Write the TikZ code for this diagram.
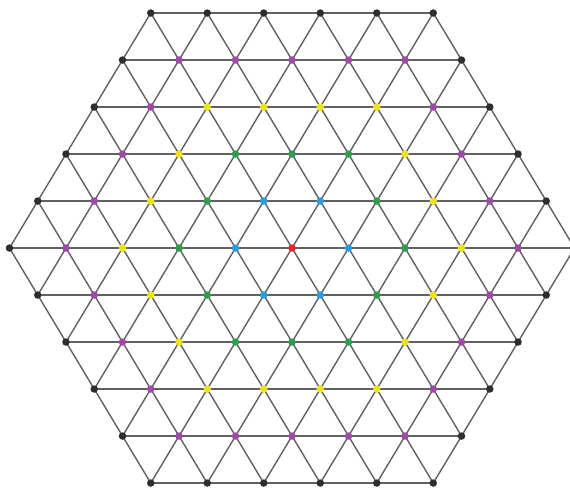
\documentclass[tikz,border=0pt]{standalone}
\usetikzlibrary{backgrounds}
\definecolor{ring0}{HTML}{E8262A}
\definecolor{ring1}{HTML}{2A9BE0}
\definecolor{ring2}{HTML}{2E9E4C}
\definecolor{ring3}{HTML}{EDE31C}
\definecolor{ring4}{HTML}{A04AA8}
\definecolor{ring5}{HTML}{2E2E2E}
\begin{document}
\begin{tikzpicture}[x=1.13cm,y=0.94cm]
  \tikzset{site/.style={circle,inner sep=0pt,minimum size=0.15cm},
    grid/.style={draw=black!62,line width=0.8pt}}
  \useasboundingbox (-5.168,-5.149) rectangle (4.920,5.277);
  \def\R{5}
  % sites of the hexagon, coloured by ring
  \foreach \q in {-5,...,5}{
    \foreach \r in {-5,...,5}{
      \pgfmathtruncatemacro\s{abs(\q+\r)}
      \ifnum\s>\R\relax\else
        \pgfmathtruncatemacro\d{max(abs(\q),abs(\r),\s)}
        \node[site,fill=ring\d] (q\q r\r) at ({\q+\r/2},{\r}) {};
      \fi
    }
  }
  % the three families of lattice lines
  \begin{pgfonlayer}{background}
  \foreach \k in {-5,...,5}{
    \pgfmathtruncatemacro\lo{max(-5,-5-\k)}
    \pgfmathtruncatemacro\hi{min(5,5-\k)}
    \draw[grid] (q\lo r\k.center) -- (q\hi r\k.center);
    \draw[grid] (q\k r\lo.center) -- (q\k r\hi.center);
    \pgfmathtruncatemacro\qa{max(-5,\k-5)}
    \pgfmathtruncatemacro\ra{\k-\qa}
    \pgfmathtruncatemacro\qb{min(5,\k+5)}
    \pgfmathtruncatemacro\rb{\k-\qb}
    \draw[grid] (q\qa r\ra.center) -- (q\qb r\rb.center);
  }
  \end{pgfonlayer}
\end{tikzpicture}
\end{document}
